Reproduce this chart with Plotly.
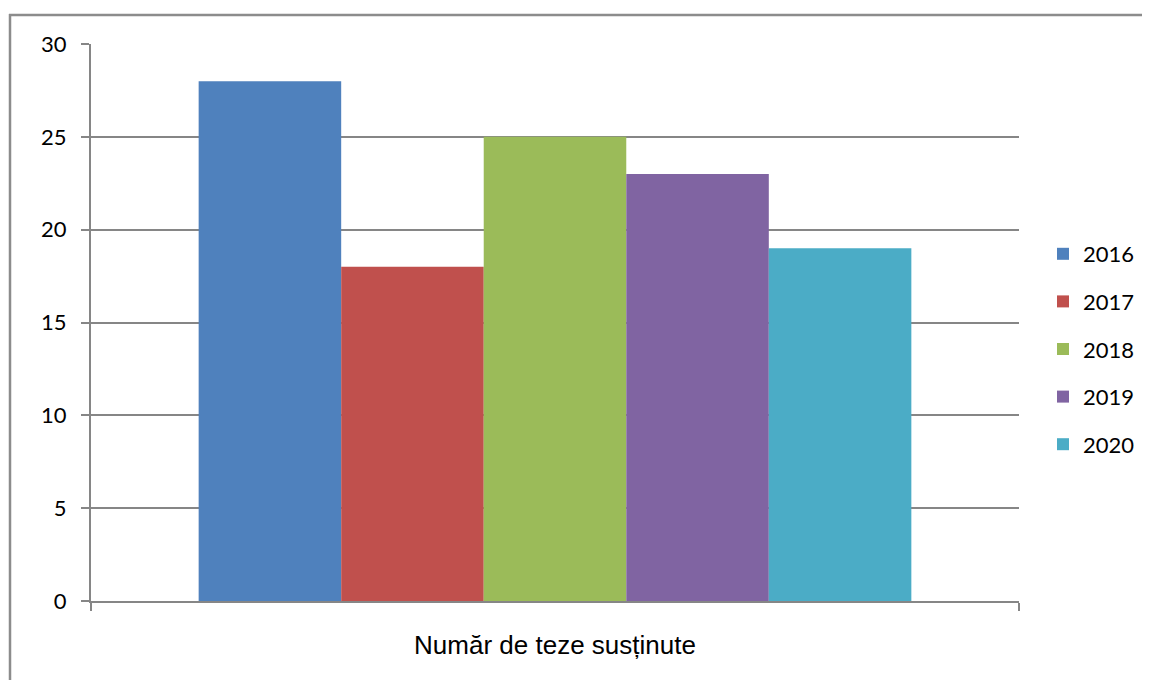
import plotly.graph_objects as go

categories = ["Număr de teze susținute"]
years = ["2016", "2017", "2018", "2019", "2020"]
values = [28, 18, 25, 23, 19]
colors = ["#4F81BD", "#C0504D", "#9BBB59", "#8064A2", "#4BACC6"]
y_ticks = [0, 5, 10, 15, 20, 25, 30]

fig = go.Figure()
for yr, v, c in zip(years, values, colors):
    fig.add_trace(go.Bar(x=categories, y=[v], name=yr, marker=dict(color=c, line=dict(width=0)),
                         legendgroup=yr))

# page body has an 8px margin; work in screenshot pixels and offset
OFF = 8
W, H = 1150 - OFF, 680 - OFF
L, T = 91 - OFF, 44 - OFF
pw, ph = 928, 557
R = W - L - pw
B = H - T - ph

def px_x(x):
    return (x - OFF - L) / pw

def px_y(y):
    return (T + ph - (y - OFF)) / ph

fig.update_layout(
    width=W, height=H,
    margin=dict(l=L, r=R, t=T, b=B, autoexpand=False),
    paper_bgcolor="white", plot_bgcolor="white",
    barmode="group", bargap=0.232, bargroupgap=0,
    font=dict(family="Lato, Liberation Sans, sans-serif", color="#000000", size=22),
    legend=dict(x=px_x(1043), y=px_y(233), xanchor="left", yanchor="top",
                font=dict(size=22, family="Lato, sans-serif"), tracegroupgap=16,
                bgcolor="rgba(0,0,0,0)"),
    showlegend=True,
)
fig.update_xaxes(
    type="category", showline=True, linecolor="#868686", linewidth=2,
    ticks="outside", tickson="boundaries", ticklen=8, tickcolor="#868686", tickwidth=2,
    tickfont=dict(family="Liberation Sans, Arial, sans-serif", size=26),
    ticklabelstandoff=20, showgrid=False,
)
fig.update_yaxes(
    range=[0, 30], tickvals=y_ticks, showgrid=True, gridcolor="#868686", gridwidth=1.5,
    showline=True, linecolor="#868686", linewidth=2,
    ticks="outside", ticklen=8, tickcolor="#868686", tickwidth=2,
    tickfont=dict(family="Lato, sans-serif", size=22), ticklabelstandoff=10,
    zeroline=False,
)
border = dict(color="#8c8c8c", width=2.5)
fig.add_shape(type="line", xref="paper", yref="paper",
              x0=px_x(9), x1=px_x(1200), y0=px_y(15), y1=px_y(15), line=border, layer="below")
fig.add_shape(type="line", xref="paper", yref="paper",
              x0=px_x(10), x1=px_x(10), y0=px_y(14), y1=px_y(720), line=border, layer="below")

fig.write_html("out.html")
